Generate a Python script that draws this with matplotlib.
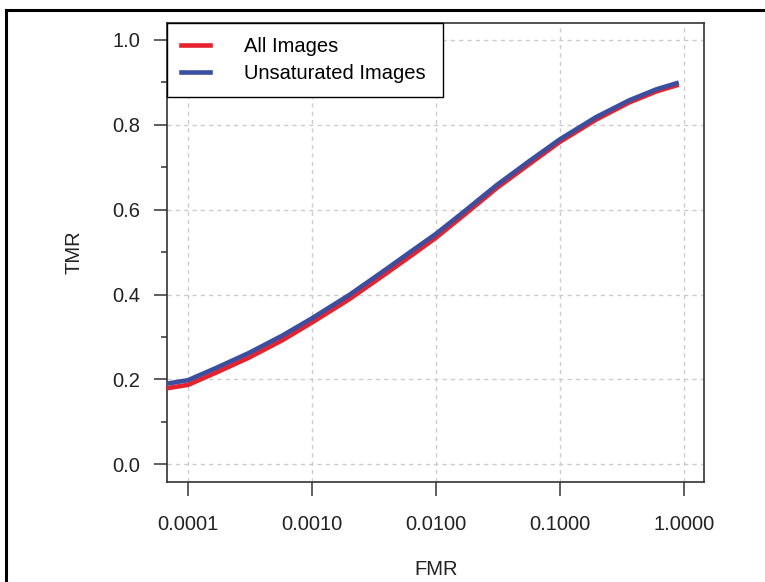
import matplotlib.pyplot as plt
from matplotlib.lines import Line2D

# values (FMR on log scale, TMR)
fmr = [6.8e-5, 1e-4, 1.66e-4, 3.09e-4, 5.75e-4, 1e-3, 2.0e-3, 3.72e-3, 6.84e-3, 1e-2,
       1.66e-2, 3.09e-2, 5.75e-2, 1e-1, 1.95e-1, 3.63e-1, 6.03e-1, 8.71e-1]
tmr_unsat = [0.190, 0.198, 0.226, 0.262, 0.303, 0.344, 0.399, 0.454, 0.509, 0.543,
             0.594, 0.658, 0.716, 0.766, 0.818, 0.858, 0.884, 0.898]
tmr_all = [0.179, 0.187, 0.215, 0.251, 0.292, 0.334, 0.389, 0.444, 0.499, 0.534,
           0.586, 0.651, 0.709, 0.760, 0.812, 0.853, 0.879, 0.893]

xticks = [1e-4, 1e-3, 1e-2, 1e-1, 1.0]
xticklabels = ['0.0001', '0.0010', '0.0100', '0.1000', '1.0000']
yticks = [0.0, 0.2, 0.4, 0.6, 0.8, 1.0]
yminor = [0.1, 0.3, 0.5, 0.7, 0.9]

plt.rcParams['font.family'] = ['Liberation Sans', 'DejaVu Sans']
plt.rcParams['font.size'] = 14.5

fig = plt.figure(figsize=(7.65, 5.82), dpi=100)
ax = fig.add_axes([0.2183, 0.1718, 0.7020, 0.7887])

red = '#e8222c'
blue = '#3a4fa0'
ax.plot(fmr, tmr_all, color=red, lw=3.3, label='All Images', zorder=3)
ax.plot(fmr, tmr_unsat, color=blue, lw=3.3, label='Unsaturated Images', zorder=4)

ax.set_xscale('log')
ax.set_xlim(6.77e-5, 1.45)
ax.set_ylim(-0.042, 1.04)

ax.set_xticks(xticks)
ax.set_xticklabels(xticklabels)
ax.xaxis.set_minor_locator(plt.NullLocator())
ax.set_yticks(yticks)
ax.set_yticklabels(['%.1f' % v for v in yticks])
ax.set_yticks(yminor, minor=True)

ax.tick_params(axis='x', which='major', direction='out', length=10, width=1.1,
               color='#333333', pad=14, labelcolor='#222222')
ax.tick_params(axis='y', which='major', direction='out', length=9.4, width=1.1,
               color='#333333', pad=10, labelcolor='#222222')
ax.tick_params(axis='y', which='minor', direction='out', length=4, width=1.1, color='#333333')

ax.grid(True, which='major', color='#cccccc', linestyle=(0, (3, 3)), lw=1)
ax.set_axisbelow(True)
for s in ax.spines.values():
    s.set_color('#333333')
    s.set_linewidth(1.2)

# label sits at the very bottom; kept fully inside the picture
ax.set_xlabel('FMR', color='#222222')
ax.xaxis.set_label_coords(0.501, -0.170)
ax.set_ylabel('TMR', color='#222222')
ax.yaxis.set_label_coords(-0.155, 0.5)

leg = ax.legend(loc='upper left', bbox_to_anchor=(0, 0, 0.514, 1.0), mode='expand',
                borderaxespad=0, fancybox=False, framealpha=1, edgecolor='black',
                handlelength=1.45, handletextpad=1.65, labelspacing=0.38, borderpad=0.7)
leg.get_frame().set_linewidth(1.0)
leg.set_zorder(5)

# outer frame (only top and left edges visible)
fig.add_artist(Line2D([0.008, 0.008], [0.0, 0.983], transform=fig.transFigure, color='black', lw=2.2))
fig.add_artist(Line2D([0.008, 1.0], [0.983, 0.983], transform=fig.transFigure, color='black', lw=2.2))

fig.savefig('out.png', dpi=100)
